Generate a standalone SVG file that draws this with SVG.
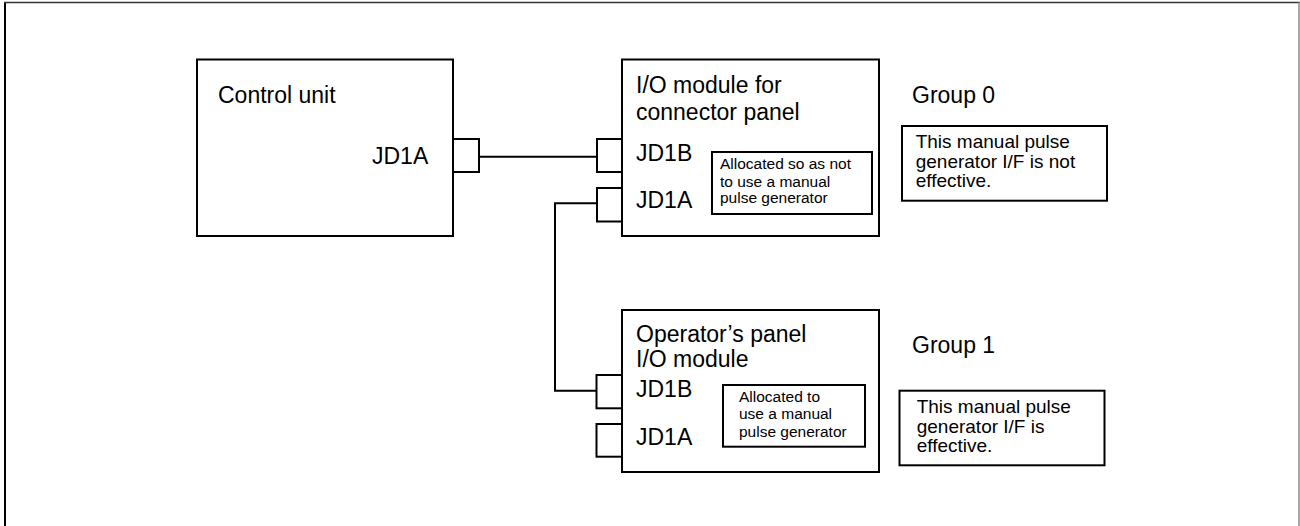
<svg xmlns="http://www.w3.org/2000/svg" width="1300" height="526" viewBox="0 0 1300 526">
<style>
.box{fill:#fff;stroke:#000;stroke-width:2}
.con{fill:#fff;stroke:#000;stroke-width:2}
.wire{fill:none;stroke:#000;stroke-width:2}
.t{font-family:"Liberation Sans",Arial,sans-serif;fill:#000}
.big{font-size:23px}
.mid{font-size:19px}
.sm{font-size:15.5px}
</style>
<rect width="1300" height="526" fill="#fff"/>
<g id="frame">
<line x1="5" y1="2" x2="5" y2="526" stroke="#000" stroke-width="2"/>
<line x1="4" y1="2.5" x2="1300" y2="2.5" stroke="#333" stroke-width="1.5"/>
<line x1="1299" y1="2" x2="1299" y2="526" stroke="#888" stroke-width="1.5"/>
</g>
<g id="connectors">
<polyline class="wire" points="479,156.7 597,156.7"/>
<polyline class="wire" points="597,203.3 555,203.3 555,390.7 597,390.7"/>
</g>
<g id="control-unit">
<rect class="box" x="197" y="59.5" width="256" height="176.5"/>
<text class="t big" x="218" y="103">Control unit</text>
<text class="t big" x="372" y="164">JD1A</text>
<rect class="con" x="453" y="139" width="26" height="33"/>
</g>
<g id="io-module">
<rect class="box" x="622" y="59.5" width="257" height="176.5"/>
<text class="t big" x="636" y="93.3">I/O module for</text>
<text class="t big" x="636" y="120">connector panel</text>
<text class="t big" x="636" y="160.7">JD1B</text>
<text class="t big" x="636" y="208.3">JD1A</text>
<rect class="con" x="597" y="139" width="25" height="33"/>
<rect class="con" x="597" y="188" width="25" height="33.5"/>
<rect class="box" x="712" y="152" width="160" height="62"/>
<text class="t sm" x="720" y="169.3">Allocated so as not</text>
<text class="t sm" x="720" y="186.7">to use a manual</text>
<text class="t sm" x="720" y="203.3">pulse generator</text>
</g>
<g id="operator-panel">
<rect class="box" x="622" y="310" width="257" height="162"/>
<text class="t big" x="636" y="341.7">Operator’s panel</text>
<text class="t big" x="636" y="366.7">I/O module</text>
<text class="t big" x="636" y="396.7">JD1B</text>
<text class="t big" x="636" y="445">JD1A</text>
<rect class="con" x="596.5" y="375" width="25.5" height="33.3"/>
<rect class="con" x="596.5" y="424" width="25.5" height="32.7"/>
<rect class="box" x="723" y="385" width="142" height="61.7"/>
<text class="t sm" x="739" y="401.7">Allocated to</text>
<text class="t sm" x="739" y="419.3">use a manual</text>
<text class="t sm" x="739" y="436.7">pulse generator</text>
</g>
<g id="group0">
<text class="t big" x="912" y="103.3">Group 0</text>
<rect class="box" x="902" y="126" width="205" height="74.7"/>
<text class="t mid" x="915.7" y="148.3">This manual pulse</text>
<text class="t mid" x="915.7" y="168">generator I/F is not</text>
<text class="t mid" x="915.7" y="186.7">effective.</text>
</g>
<g id="group1">
<text class="t big" x="912" y="353.3">Group 1</text>
<rect class="box" x="899.5" y="390.7" width="205" height="74.6"/>
<text class="t mid" x="916.7" y="413.3">This manual pulse</text>
<text class="t mid" x="916.7" y="432.7">generator I/F is</text>
<text class="t mid" x="916.7" y="451.7">effective.</text>
</g>
</svg>
